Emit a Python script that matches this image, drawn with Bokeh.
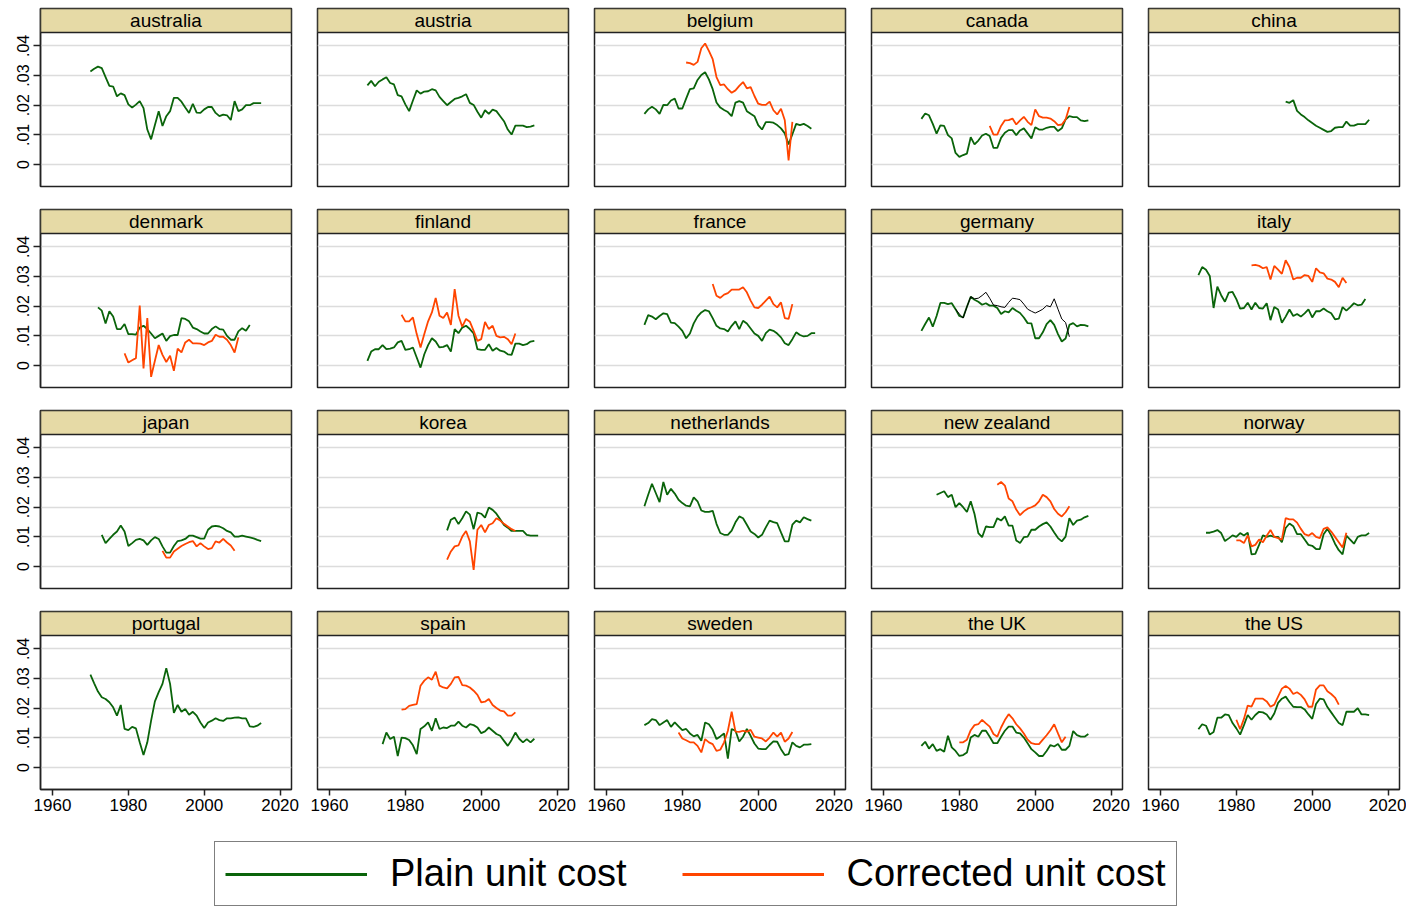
from bokeh.plotting import figure
from bokeh.layouts import gridplot, column
from bokeh.models import (Range1d, FixedTicker, BoxAnnotation, Label, Legend, LegendItem,
                          ColumnDataSource, Grid, LinearAxis, CustomJSTickFormatter)
from bokeh.embed import file_html
from bokeh.resources import INLINE

# ---------------- data ----------------
countries = ["australia", "austria", "belgium", "canada", "china",
             "denmark", "finland", "france", "germany", "italy",
             "japan", "korea", "netherlands", "new zealand", "norway",
             "portugal", "spain", "sweden", "the UK", "the US"]

y_ticks = [0, 0.01, 0.02, 0.03, 0.04]
x_ticks = [1960, 1980, 2000, 2020]

australia_plain_start = 1970
australia_plain = [.0314, .0323, .033, .0325, .0295, .0265, .0263, .023, .024, .0234,
                   .0203, .0192, .0202, .0214, .019, .0118, .0085, .0133, .018, .013,
                   .0163, .018, .0225, .0225, .0212, .0192, .0174, .0205, .0175, .0174,
                   .0186, .0194, .0194, .0174, .0163, .0168, .0166, .015, .0214, .018,
                   .0186, .02, .02, .0207, .0207, .0207]
australia_corr_start = None
australia_corr = []

austria_plain_start = 1970
austria_plain = [.0267, .0282, .0264, .0279, .0287, .0294, .0275, .027, .0234, .023,
                 .0203, .018, .0216, .025, .0239, .0246, .0247, .0254, .025, .0228,
                 .0214, .02, .0211, .0221, .0225, .023, .0237, .0208, .0201, .0178,
                 .0158, .0183, .0171, .0185, .018, .0163, .0146, .0118, .0101, .0131,
                 .0131, .0131, .0126, .0128, .0132]
austria_corr_start = None
austria_corr = []

belgium_plain_start = 1970
belgium_plain = [.0171, .0186, .0195, .0186, .0171, .0201, .02, .0216, .0222, .0189,
                 .0189, .0222, .0254, .0257, .0285, .0302, .0311, .0287, .0254, .0209,
                 .0192, .0184, .0177, .0163, .0209, .0214, .0209, .018, .0171, .0163,
                 .0133, .0118, .0143, .0143, .0141, .0133, .0122, .0105, .0068, .0102,
                 .0137, .0133, .0137, .013, .0121]
belgium_corr_start = 1981
belgium_corr = [.0344, .0342, .0336, .0346, .0392, .0408, .0383, .0355, .0295,
                .0268, .027, .0254, .0242, .025, .0265, .0278, .0257, .0261, .0231,
                .0205, .0201, .0201, .0212, .0183, .0169, .0188, .0149, .0014, .0144]

canada_plain_start = 1970
canada_plain = [.0154, .0172, .0166, .0137, .0104, .0132, .013, .0099, .0088, .0039,
                .0026, .0032, .0037, .0092, .0068, .0081, .0098, .0104, .0096, .0056,
                .0056, .009, .0107, .0116, .0116, .0099, .0115, .0122, .0105, .0088,
                .0126, .0118, .0118, .0124, .0127, .0127, .0113, .0122, .0152, .0163,
                .016, .016, .0149, .0146, .0149]
canada_corr_start = 1988
canada_corr = [.013, .0101, .0101, .013, .0149, .015, .0155, .0135, .0149, .0161, .0144,
               .0133, .0186, .0163, .0158, .0158, .0155, .0146, .0133, .0135, .0152, .0194]

china_plain_start = 1993
china_plain = [.0212, .0208, .0217, .0181, .0169, .016, .0149, .014, .0131, .0124, .0117,
               .011, .0113, .0124, .0126, .0126, .0145, .0131, .0131, .0136, .0136, .0136, .0151]
china_corr_start = None
china_corr = []

denmark_plain_start = 1972
denmark_plain = [.0196, .0185, .0142, .0183, .0165, .0123, .0123, .014,
                 .0106, .0106, .0104, .0128, .0134, .0123, .0108, .0092, .01, .0108,
                 .0083, .0099, .0103, .0103, .016, .0157, .0149, .0128, .0123, .0115,
                 .0108, .0108, .0123, .0132, .0123, .0121, .01, .0087, .0087, .0115,
                 .0126, .0117, .0137]
denmark_corr_start = 1979
denmark_corr = [.0041,
                .001, .0018, .0025, .0202, -.001, .016, -.0038, .0016, .0069, .0036,
                .0012, .0033, -.0018, .0057, .0044, .0078, .0087, .0075, .0075, .0074,
                .0069, .0078, .0083, .0104, .0097, .0097, .0087, .0069, .0044, .0095]

finland_plain_start = 1970
finland_plain = [.0016, .0047, .0055, .0055, .0069, .0055, .0057, .0061, .0078, .0083,
                 .0053, .0055, .0061, .0027, -.0007, .0038, .0069, .0092, .0081, .0061,
                 .0063, .0069, .0047, .0123, .0109, .0128, .0134, .0123, .0108, .0055,
                 .0053, .0053, .0072, .005, .0059, .005, .0047, .0038, .0036, .0074,
                 .0074, .0069, .0072, .0081, .0083]
finland_corr_start = 1979
finland_corr = [.0171,
                .0149, .0149, .0162, .0106, .0061, .0106, .0149, .0179, .0228, .0168,
                .016, .0179, .0137, .0258, .0168, .0131, .0157, .0148, .0117, .0083,
                .0089, .0147, .0123, .0134, .01, .0095, .0097, .0089, .0072, .0108]

france_plain_start = 1970
france_plain = [.0137, .017, .0165, .0156, .0167, .0176, .0173, .0145, .0143, .0131,
                .0117, .0092, .0108, .0142, .0165, .0179, .0187, .0183, .016, .0134,
                .0125, .0123, .0115, .0134, .0149, .0123, .0151, .0142, .0125, .0108,
                .01, .0083, .0109, .0121, .0117, .0108, .0095, .0075, .0069, .0089,
                .0112, .0103, .0098, .01, .0109, .0109]
france_corr_start = 1988
france_corr = [.0275, .0235, .0228, .0239, .0244, .0256, .0256, .0256, .0264, .0247, .0219,
               .0196, .0194, .0205, .0219, .0232, .0207, .0196, .0213, .016, .0157, .0207]

germany_plain_start = 1970
germany_plain = [.0117, .014, .0162, .0131, .0167, .0211, .0211, .0207, .021, .019,
                 .0167, .0162, .0198, .0232, .0222, .0215, .0205, .021, .0202, .0202,
                 .0194, .0174, .0183, .0179, .0194, .0185, .0177, .0162, .0143, .0142,
                 .0092, .0092, .0112, .014, .0153, .0137, .0106, .0081, .0091, .0137,
                 .0143, .0132, .0137, .0136, .0132]
germany_corr_start = None
germany_corr = []
germany_other_start = 1979
germany_other = [.019,
                 .0174, .016, .0198, .0232, .0225, .0227, .0236, .0247, .0227, .0204,
                 .0202, .0198, .0196, .0213, .0227, .0225, .0222, .0207, .019, .0183,
                 .0177, .0183, .019, .0202, .0198, .0225, .019, .0157, .0145, .0097]

italy_plain_start = 1970
italy_plain = [.0305, .0332, .0323, .0302, .0194, .0266, .0237, .0215, .0246, .0248,
               .0224, .0192, .0194, .0212, .0189, .0212, .0194, .0192, .021, .0153,
               .0197, .0189, .0144, .0165, .0189, .0167, .0174, .0165, .0176, .0189,
               .0162, .0183, .0183, .0192, .0183, .0176, .0156, .0158, .0197, .0185,
               .0197, .021, .0203, .0205, .0224]
italy_corr_start = 1984
italy_corr = [.0338, .0339, .0336, .0328, .0332, .029,
              .0336, .0323, .0309, .0355, .0332, .029, .0296, .0296, .0305, .0302,
              .0282, .0328, .0314, .0311, .0293, .029, .0282, .0264, .0296, .0278]

japan_plain_start = 1973
japan_plain = [.0107, .0079, .0093, .0107, .0118, .0138, .0118,
               .0069, .0079, .009, .0093, .0088, .0073, .0088, .0099, .0093, .0068,
               .0047, .0047, .0069, .0086, .0088, .0093, .0104, .0104, .0099, .0094,
               .0094, .0124, .0135, .0137, .0135, .0129, .012, .0115, .0101, .0101,
               .0104, .0101, .0098, .0095, .009, .0086]
japan_corr_start = 1989
japan_corr = [.0053, .003, .003, .0051, .006, .0069, .0076, .0082, .0086, .0068,
              .0079, .0068, .0059, .0062, .0085, .0081, .0093, .0081, .0071, .0053]

korea_plain_start = 1991
korea_plain = [.0122, .0158, .0165, .0143, .0163, .0186, .0175, .0126, .0182, .0178,
               .0165, .0199, .0191, .0178, .0159, .014, .0131, .012, .012, .012,
               .012, .0107, .0104, .0104, .0104]
korea_corr_start = 1991
korea_corr = [.0023, .0051, .0068, .0071, .0101, .012, .0085, -.0011, .0124, .014,
              .0115, .014, .0146, .0163, .0155, .0144, .0135, .0126, .012]

netherlands_plain_start = 1970
netherlands_plain = [.0203, .0242, .0279, .0248, .0217, .0285, .0242, .0262, .0246, .0225,
                     .0214, .0205, .0203, .0233, .022, .0189, .0184, .0184, .0188, .0144,
                     .0113, .0107, .0107, .0121, .0149, .0169, .0163, .0141, .0118, .011,
                     .0098, .0107, .0132, .0155, .015, .0146, .0115, .0085, .0085, .0141,
                     .0155, .0149, .0166, .016, .0155]
netherlands_corr_start = None
netherlands_corr = []

newzealand_plain_start = 1974
newzealand_plain = [.0242, .0248, .0254, .0234, .0242, .02,
                    .0214, .02, .0184, .022, .0177, .0113, .0099, .0135, .0133, .0133,
                    .0163, .0155, .0169, .0138, .0138, .0088, .0079, .0099, .0101, .0124,
                    .0124, .0135, .0143, .0149, .0135, .0115, .0096, .0085, .0101, .0163,
                    .014, .0155, .0158, .0166, .0171]
newzealand_corr_start = 1990
newzealand_corr = [.0276, .0285, .0273, .0229, .022, .0192, .0173, .0186, .0195, .02,
                   .0206, .022, .0242, .0234, .022, .0194, .0178, .0169, .0183, .0203]

norway_plain_start = 1972
norway_plain = [.0114, .0114, .0118, .0123, .0113, .0086, .0095, .0105,
                .01, .0113, .0105, .0114, .0041, .0043, .0073, .0105, .01, .0104,
                .01, .01, .0082, .013, .0145, .0136, .0109, .0109, .0091, .0073,
                .007, .0059, .0059, .0109, .0127, .0105, .0077, .0055, .0041, .0104,
                .0091, .0077, .01, .0105, .0105, .0113]
norway_corr_start = 1980
norway_corr = [.0088, .0088, .0079, .0105, .0068, .0073, .0091, .0082, .0104, .0123,
               .01, .0096, .0091, .0163, .0159, .0159, .0148, .0127, .0109, .0104,
               .0113, .01, .0096, .0127, .0132, .0118, .01, .0082, .0064, .0114]

portugal_plain_start = 1970
portugal_plain = [.0313, .0284, .0256, .0237, .0231, .022, .0203, .0175, .0211, .013,
                  .0126, .0137, .0132, .0085, .0042, .0085, .0158, .0223, .0254, .0282,
                  .0335, .0282, .0184, .0211, .0188, .0197, .0178, .0188, .0175, .0152,
                  .0133, .0152, .0158, .0166, .016, .0157, .0166, .0166, .0168, .0169,
                  .0166, .0166, .0139, .0137, .0141, .015]
portugal_corr_start = None
portugal_corr = []

spain_plain_start = 1974
spain_plain = [.0079, .0118, .0096, .0104, .0039, .0101,
               .0099, .0093, .0075, .0045, .013, .0139, .0152, .0124, .0166, .013,
               .0135, .0133, .0141, .0141, .0155, .0141, .0135, .0146, .0143, .0135,
               .0116, .0122, .0135, .0124, .0113, .0107, .009, .0073, .0093, .0118,
               .0097, .0085, .0096, .0085, .0097]
spain_corr_start = 1979
spain_corr = [.0195,
              .0197, .0208, .0211, .0214, .0276, .0293, .0304, .0296, .0323, .0276,
              .027, .0267, .0282, .0304, .0306, .0278, .0276, .027, .0259, .0245,
              .022, .0222, .0231, .0211, .0201, .0192, .0189, .0175, .0175, .0186]

sweden_plain_start = 1970
sweden_plain = [.0143, .015, .0163, .016, .0143, .0152, .016, .0137, .0152, .0139,
                .0126, .013, .0115, .0105, .011, .009, .0152, .0146, .0127, .0096,
                .0105, .0115, .003, .013, .0124, .0088, .0104, .013, .0107, .0081,
                .0064, .0062, .0062, .0076, .0088, .0087, .0062, .0042, .0045, .0085,
                .0073, .0068, .0077, .0077, .0079]
sweden_corr_start = 1979
sweden_corr = [.0118,
               .0098, .0092, .0085, .0085, .0073, .0051, .0096, .0085, .0079, .0056,
               .006, .0085, .0124, .0188, .0121, .012, .0124, .0121, .0127, .0104,
               .0101, .0098, .0088, .0101, .0118, .0104, .0118, .0087, .0098, .012]

uk_plain_start = 1970
uk_plain = [.0073, .0087, .0064, .0079, .0056, .0062, .0053, .0107, .0068, .0056,
            .0039, .0042, .0051, .0101, .011, .0104, .0124, .0124, .0104, .0082,
            .0082, .0104, .0124, .0138, .0138, .0118, .0115, .0101, .0082, .0062,
            .0051, .0039, .0039, .0056, .0076, .0071, .0079, .006, .006, .0073,
            .0123, .0109, .0104, .0104, .0113]
uk_corr_start = 1980
uk_corr = [.0085, .0085, .0094, .0126, .0143, .0146, .0161, .0149, .0138, .0113,
           .0104, .0135, .016, .018, .0166, .0146, .0132, .0115, .0094, .0082,
           .0079, .0079, .0094, .0109, .0126, .0146, .0115, .0085, .0104]

us_plain_start = 1970
us_plain = [.0129, .0146, .0141, .0111, .012, .0168, .0168, .0179, .0177, .015,
            .0132, .0111, .0143, .0177, .0161, .0177, .0188, .0186, .0179, .0161,
            .0182, .0218, .0232, .0239, .0221, .0205, .0204, .0204, .0196, .0179,
            .0164, .0214, .0232, .023, .0204, .0186, .0168, .015, .0143, .0188,
            .0188, .0188, .02, .0179, .0179, .0177]
us_corr_start = 1980
us_corr = [.0161, .0129, .0164, .0209, .0205, .0232, .0232, .0232, .0223, .0205,
           .0212, .0239, .0266, .0275, .0266, .0248, .0254, .0245, .023, .0205,
           .0205, .0263, .0277, .0277, .0257, .0248, .0236, .0212]

legend_labels = ["Plain unit cost", "Corrected unit cost"]

# table built from the named arrays above
panels = [
    (australia_plain_start, australia_plain, australia_corr_start, australia_corr),
    (austria_plain_start, austria_plain, austria_corr_start, austria_corr),
    (belgium_plain_start, belgium_plain, belgium_corr_start, belgium_corr),
    (canada_plain_start, canada_plain, canada_corr_start, canada_corr),
    (china_plain_start, china_plain, china_corr_start, china_corr),
    (denmark_plain_start, denmark_plain, denmark_corr_start, denmark_corr),
    (finland_plain_start, finland_plain, finland_corr_start, finland_corr),
    (france_plain_start, france_plain, france_corr_start, france_corr),
    (germany_plain_start, germany_plain, germany_corr_start, germany_corr),
    (italy_plain_start, italy_plain, italy_corr_start, italy_corr),
    (japan_plain_start, japan_plain, japan_corr_start, japan_corr),
    (korea_plain_start, korea_plain, korea_corr_start, korea_corr),
    (netherlands_plain_start, netherlands_plain, netherlands_corr_start, netherlands_corr),
    (newzealand_plain_start, newzealand_plain, newzealand_corr_start, newzealand_corr),
    (norway_plain_start, norway_plain, norway_corr_start, norway_corr),
    (portugal_plain_start, portugal_plain, portugal_corr_start, portugal_corr),
    (spain_plain_start, spain_plain, spain_corr_start, spain_corr),
    (sweden_plain_start, sweden_plain, sweden_corr_start, sweden_corr),
    (uk_plain_start, uk_plain, uk_corr_start, uk_corr),
    (us_plain_start, us_plain, us_corr_start, us_corr),
]
extra = {"germany": (germany_other_start, germany_other)}

# ---------------- style ----------------
GREEN = "#0a640a"
ORANGE = "#ff4500"
BAND = "#e6daa6"
FRAME = "#222222"
GRID = "#dcdcdc"
FONT = "Liberation Sans"

FW, FH = 251, 178
X0, X1 = 1956.85, 2023.0
Y0, Y1 = -0.0074, 0.0526
BAND_BOTTOM = 0.0445

def years(start, vals):
    return list(range(start, start + len(vals)))

figs = []
for i, name in enumerate(countries):
    row, col = divmod(i, 5)
    left = col == 0
    bottom = row == 3
    p = figure(frame_width=FW, frame_height=FH,
               x_range=Range1d(X0, X1), y_range=Range1d(Y0, Y1),
               x_axis_location=None, y_axis_location=None,
               toolbar_location=None, output_backend="svg",
               min_border_left=40 if left else 13,
               min_border_right=13 if col < 4 else 7,
               min_border_top=8 if row == 0 else 11,
               min_border_bottom=40 if bottom else 12,
               background_fill_color="white", border_fill_color="white",
               outline_line_color=FRAME, outline_line_width=1.5)
    p.center = []
    p.add_layout(Grid(dimension=1, ticker=FixedTicker(ticks=y_ticks),
                      grid_line_color=GRID, grid_line_width=1.5))
    if left:
        ya = LinearAxis(ticker=FixedTicker(ticks=y_ticks),
                        formatter=CustomJSTickFormatter(
                            code="return tick == 0 ? '0' : tick.toFixed(2).replace('0.', '.');"),
                        major_label_orientation="vertical",
                        major_tick_out=7, major_tick_in=0,
                        minor_tick_out=0, minor_tick_in=0,
                        major_label_standoff=4,
                        major_label_text_font=FONT,
                        major_label_text_font_size="16px",
                        major_label_text_color="black",
                        axis_line_color=FRAME, axis_line_width=1.5,
                        major_tick_line_color=FRAME, major_tick_line_width=1.5)
        p.add_layout(ya, "left")
    if bottom:
        xa = LinearAxis(ticker=FixedTicker(ticks=x_ticks),
                        major_tick_out=6, major_tick_in=0,
                        minor_tick_out=0, minor_tick_in=0,
                        major_label_standoff=3,
                        major_label_text_font=FONT,
                        major_label_text_font_size="17px",
                        major_label_text_color="black",
                        axis_line_color=FRAME, axis_line_width=1.5,
                        major_tick_line_color=FRAME, major_tick_line_width=1.5)
        p.add_layout(xa, "below")

    ps, pv, cs, cv = panels[i]
    p.line(years(ps, pv), pv, line_color=GREEN, line_width=1.8)
    if cs is not None:
        p.line(years(cs, cv), cv, line_color=ORANGE, line_width=1.8)
    if name in extra:
        es, ev = extra[name]
        p.line(years(es, ev), ev, line_color="black", line_width=1.0)

    p.add_layout(BoxAnnotation(bottom=BAND_BOTTOM, fill_color=BAND, fill_alpha=1.0,
                               line_color=FRAME, line_width=1.5, line_alpha=1.0))
    p.add_layout(Label(x=(X0 + X1) / 2, y=(BAND_BOTTOM + Y1) / 2, text=name,
                       text_align="center", text_baseline="middle",
                       text_font=FONT, text_font_size="19px", text_color="black"))
    figs.append(p)

grid = gridplot([figs[r * 5:(r + 1) * 5] for r in range(4)], toolbar_location=None)

# ---------------- legend ----------------
TOTAL_W = 40 + FW + 13 + 3 * (13 + FW + 13) + 13 + FW + 7
lf = figure(width=TOTAL_W, height=78, x_range=Range1d(0, 1), y_range=Range1d(0, 1),
            x_axis_location=None, y_axis_location=None, toolbar_location=None,
            output_backend="svg", outline_line_color=None, min_border=0,
            background_fill_color="white", border_fill_color="white")
lf.center = []
nan = float("nan")
r1 = lf.line("x", "y", source=ColumnDataSource(dict(x=[nan], y=[nan])),
             line_color=GREEN, line_width=3)
r2 = lf.line("x", "y", source=ColumnDataSource(dict(x=[nan], y=[nan])),
             line_color=ORANGE, line_width=3)
legend = Legend(items=[LegendItem(label=legend_labels[0], renderers=[r1]),
                       LegendItem(label=legend_labels[1], renderers=[r2])],
                orientation="horizontal", location=(214, 1),
                glyph_width=142, glyph_height=40, label_standoff=23, spacing=55,
                padding=10, margin=0,
                label_text_font=FONT, label_text_font_size="38px", label_text_color="black",
                border_line_color="black", border_line_width=1.5,
                background_fill_color="white", background_fill_alpha=1.0)
lf.add_layout(legend, "center")

layout = column(grid, lf)
open("out.html", "w").write(file_html(layout, INLINE))
